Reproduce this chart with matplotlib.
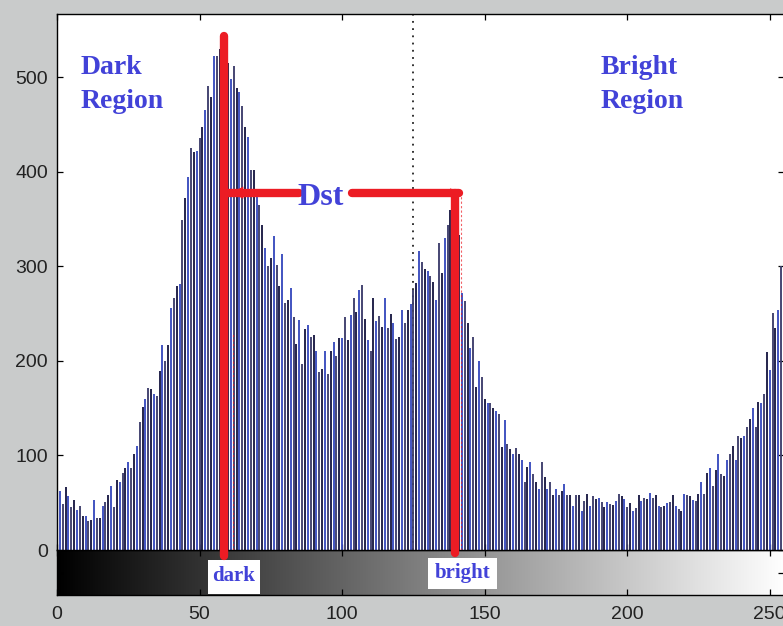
from __future__ import annotations

import matplotlib

matplotlib.use("Agg")
import matplotlib.pyplot as plt
import numpy as np
from matplotlib.patches import Rectangle

# histogram counts per gray level
COUNTS = [
    25, 62, 49, 67, 57, 46, 53, 42, 47, 36,
    36, 31, 32, 53, 34, 34, 47, 51, 58, 68,
    46, 74, 72, 81, 87, 93, 87, 102, 110, 135,
    151, 160, 171, 170, 165, 163, 189, 217, 200, 217,
    256, 267, 279, 281, 349, 372, 395, 425, 421, 422,
    436, 447, 465, 491, 479, 523, 523, 530, 520, 505,
    515, 498, 512, 489, 484, 470, 447, 437, 402, 402,
    382, 365, 344, 319, 300, 309, 332, 302, 279, 313,
    261, 265, 277, 246, 218, 243, 197, 234, 238, 225,
    227, 210, 188, 191, 210, 186, 210, 220, 205, 224,
    224, 246, 222, 249, 267, 252, 275, 280, 244, 222,
    210, 267, 242, 248, 236, 267, 235, 250, 240, 223,
    225, 254, 240, 254, 260, 275, 282, 316, 305, 297,
    295, 290, 284, 265, 325, 293, 330, 344, 360, 365,
    350, 333, 272, 263, 240, 214, 225, 172, 200, 183,
    160, 155, 156, 150, 147, 144, 109, 137, 112, 107,
    102, 108, 102, 95, 72, 88, 93, 80, 72, 65,
    93, 77, 65, 72, 58, 65, 58, 62, 70, 58,
    58, 47, 58, 58, 41, 52, 59, 47, 57, 54,
    55, 51, 46, 51, 49, 48, 52, 59, 57, 54,
    46, 50, 41, 44, 58, 52, 55, 54, 60, 55,
    58, 47, 46, 47, 50, 51, 58, 47, 43, 41,
    59, 58, 57, 53, 52, 59, 72, 59, 81, 87,
    68, 85, 102, 80, 78, 95, 102, 110, 95, 121,
    118, 121, 130, 139, 150, 130, 157, 155, 165, 209,
    190, 251, 235, 254, 300, 300,
]
GRAY_LEVELS = list(range(len(COUNTS)))
X_TICKS = [0, 50, 100, 150, 200, 250]
Y_TICKS = [0, 100, 200, 300, 400, 500]

DARK_LEVEL = 58.6
BRIGHT_LEVEL = 139.6
MIDDLE_LEVEL = 125
DST_HEIGHT = 378

RED = "#ec1c24"
TEXT_BLUE = "#4242d8"
BAR_COLORS = ["#1b1b45", "#3a4cbe", "#3e3e6c"]
SERIF = ["Liberation Serif", "DejaVu Serif"]
SANS = ["Liberation Sans", "DejaVu Sans"]


def draw_gradient(ax: plt.Axes) -> None:
    ax.imshow(
        np.array(GRAY_LEVELS)[None, :],
        cmap="gray",
        vmin=0,
        vmax=255,
        aspect="auto",
        extent=(0, 255, 0, 1),
    )
    ax.set_xlim(0, 255)
    ax.set_ylim(0, 1)
    ax.set_xticks(X_TICKS)
    ax.set_yticks([0.5])
    ax.tick_params(axis="x", direction="in", top=True, bottom=True,
                   length=4.5, width=0.9, pad=8, labelsize=14, labelcolor="#222222")
    ax.tick_params(axis="y", direction="in", left=True, right=True,
                   length=4.5, width=0.9, labelleft=False)
    for label in ax.get_xticklabels():
        label.set_family(SANS)

    for left, right, bottom, top, word, y_text in (
        (53.0, 71.2, 0.02, 0.78, "dark", 0.42),
        (130.1, 154.3, 0.13, 0.82, "bright", 0.5),
    ):
        ax.add_patch(Rectangle((left, bottom), right - left, top - bottom,
                               facecolor="white", edgecolor="none", zorder=3))
        ax.text((left + right) / 2, y_text, word, ha="center", va="center",
                family=SERIF, fontweight="bold", fontsize=15, color=TEXT_BLUE, zorder=4)


def draw_histogram(ax: plt.Axes) -> None:
    colors = [BAR_COLORS[i % len(BAR_COLORS)] for i in GRAY_LEVELS]
    ax.vlines(GRAY_LEVELS, 0, COUNTS, colors=colors, linewidth=1.35, zorder=2)

    ax.set_xlim(0, 255)
    ax.set_ylim(0, 567)
    ax.set_xticks(X_TICKS)
    ax.set_yticks(Y_TICKS)
    ax.tick_params(axis="x", direction="in", top=True, bottom=True,
                   length=4.5, width=0.9, labelbottom=False)
    ax.tick_params(axis="y", direction="in", left=True, right=True,
                   length=4.5, width=0.9, pad=6.5, labelsize=14, labelcolor="#222222")
    for label in ax.get_yticklabels():
        label.set_family(SANS)

    # threshold and helper lines
    ax.plot([MIDDLE_LEVEL, MIDDLE_LEVEL], [0, 567], linestyle=(0, (1, 3)),
            color="#222222", linewidth=1.3, zorder=1)
    ax.plot([61.7, 61.7], [0, 230], linestyle=(0, (2, 2)), color=RED,
            linewidth=0.8, alpha=0.7, zorder=3)
    ax.plot([141.7, 141.7], [0, DST_HEIGHT], linestyle=(0, (2, 2)), color=RED,
            linewidth=0.8, alpha=0.7, zorder=3)

    line_style = dict(color=RED, linewidth=6, solid_capstyle="round",
                      clip_on=False, zorder=5)
    ax.plot([DARK_LEVEL, DARK_LEVEL], [-6, 544], **line_style)
    ax.plot([BRIGHT_LEVEL, BRIGHT_LEVEL], [-3, DST_HEIGHT], **line_style)
    ax.plot([DARK_LEVEL, 85.0], [DST_HEIGHT, DST_HEIGHT], **line_style)
    ax.plot([103.5, 141.0], [DST_HEIGHT, DST_HEIGHT], **line_style)
    ax.annotate("", xy=(DARK_LEVEL + 1.5, DST_HEIGHT), xytext=(DARK_LEVEL + 8, DST_HEIGHT),
                arrowprops=dict(arrowstyle="-|>", color=RED, linewidth=0,
                                mutation_scale=22), zorder=6)
    ax.annotate("", xy=(142.0, DST_HEIGHT), xytext=(136.0, DST_HEIGHT),
                arrowprops=dict(arrowstyle="-|>", color=RED, linewidth=0,
                                mutation_scale=16), zorder=6)

    text_style = dict(family=SERIF, fontweight="bold", color=TEXT_BLUE, zorder=6)
    ax.text(92.6, 373, "Dst", ha="center", va="center", fontsize=23, **text_style)
    for x_left, first in ((8.1, "Dark"), (190.5, "Bright")):
        ax.text(x_left, 504, first, ha="left", va="baseline", fontsize=20, **text_style)
        ax.text(x_left, 468, "Region", ha="left", va="baseline", fontsize=20, **text_style)


def main() -> None:
    fig = plt.figure(figsize=(7.83, 6.26), dpi=100, facecolor="#c9cbcb")
    gradient_ax = fig.add_axes([0.0728, 0.0495, 0.9285, 0.0719])
    hist_ax = fig.add_axes([0.0728, 0.1214, 0.9285, 0.8562])
    hist_ax.set_facecolor("white")
    for ax in (gradient_ax, hist_ax):
        for spine in ax.spines.values():
            spine.set_linewidth(1.0)

    draw_gradient(gradient_ax)
    draw_histogram(hist_ax)

    fig.savefig("out.png", dpi=100, facecolor=fig.get_facecolor())
    plt.close(fig)


if __name__ == "__main__":
    main()
